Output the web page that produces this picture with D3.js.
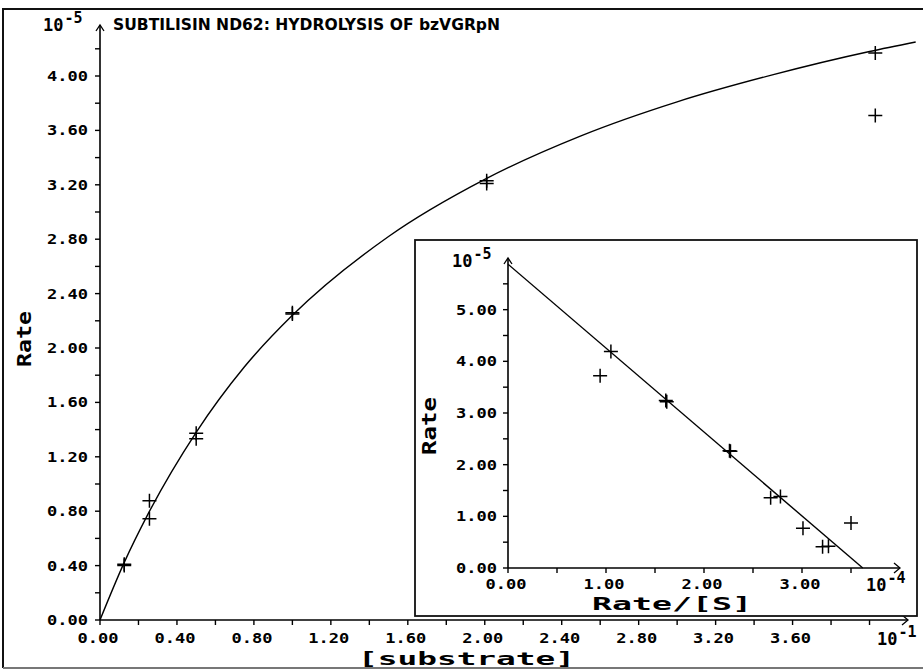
<!DOCTYPE html>
<html>
<head>
<meta charset="utf-8">
<script src="https://cdn.jsdelivr.net/npm/d3@7"></script>
<style>
  body { margin: 0; background: #fff; }
  svg { display: block; }
</style>
</head>
<body>
<div id="chart"></div>
<script>
// Main plot: rate vs [substrate] (x in 10^-1, y in 10^-5)
const substrate = [0.126, 0.126, 0.257, 0.257, 0.50, 0.50, 1.00, 1.00, 2.01, 2.01, 4.03, 4.03];
const rate      = [0.40, 0.41, 0.877, 0.745, 1.373, 1.333, 2.25, 2.26, 3.23, 3.21, 4.17, 3.71];

// fitted curve
const fitS = [0, 0.125, 0.25, 0.5, 0.75, 1.0, 1.5, 2.0, 2.5, 3.0, 3.5, 4.0, 4.24];
const fitV = [0, 0.42, 0.78, 1.38, 1.86, 2.24, 2.82, 3.24, 3.56, 3.81, 4.01, 4.18, 4.25];

// Inset: rate vs rate/[S] (x in 10^-4, y in 10^-5)
const insetX = [1.05, 0.94, 1.61, 1.62, 2.26, 2.27, 2.68, 2.78, 3.01, 3.21, 3.27, 3.50];
const insetY = [4.19, 3.72, 3.24, 3.22, 2.27, 2.26, 1.36, 1.385, 0.77, 0.41, 0.42, 0.87];
const insetLineX = [0, 3.62];
const insetLineY = [5.88, 0];

// tick labels
const mainXLabels = [0, 0.4, 0.8, 1.2, 1.6, 2.0, 2.4, 2.8, 3.2, 3.6];
const mainXMinor  = [0, 0.2, 0.4, 0.6, 0.8, 1.0, 1.2, 1.4, 1.6, 1.8, 2.0, 2.2, 2.4, 2.6, 2.8, 3.0, 3.2, 3.4, 3.6, 3.8, 4.0];
const mainYLabels = [0, 0.4, 0.8, 1.2, 1.6, 2.0, 2.4, 2.8, 3.2, 3.6, 4.0];
const mainYMinor  = [0, 0.2, 0.4, 0.6, 0.8, 1.0, 1.2, 1.4, 1.6, 1.8, 2.0, 2.2, 2.4, 2.6, 2.8, 3.0, 3.2, 3.4, 3.6, 3.8, 4.0, 4.2];
const insetXLabels = [0, 1, 2, 3];
const insetXMinor  = [0, 0.5, 1, 1.5, 2, 2.5, 3, 3.5];
const insetYLabels = [0, 1, 2, 3, 4, 5];
const insetYMinor  = [0, 0.5, 1, 1.5, 2, 2.5, 3, 3.5, 4, 4.5, 5, 5.5];

const width = 923, height = 670;
const mono = "'DejaVu Sans Mono', monospace";

const svg = d3.select("#chart").append("svg")
    .attr("width", width)
    .attr("height", height);

// outer frame (left, top, bottom)
svg.append("path")
    .attr("d", "M3,668 L3,9 L923,9")
    .attr("fill", "none").attr("stroke", "#111").attr("stroke-width", 2);
svg.append("line")
    .attr("x1", 3).attr("x2", 923).attr("y1", 668).attr("y2", 668)
    .attr("stroke", "#777").attr("stroke-width", 2);

// scales
const x = d3.scaleLinear().domain([0, 4.2]).range([100, 908]);
const y = d3.scaleLinear().domain([0, 4.375]).range([620, 25]);

function drawAxes(g, xs, ys, xMinor, xLabels, yMinor, yLabels, xLabelY, yLabelX) {
    const x0 = xs.range()[0], x1 = xs.range()[1];
    const y0 = ys.range()[0], y1 = ys.range()[1];
    g.append("line").attr("x1", x0).attr("x2", x1).attr("y1", y0).attr("y2", y0)
        .attr("stroke", "#000").attr("stroke-width", 1.6);
    g.append("line").attr("x1", x0).attr("x2", x0).attr("y1", y0).attr("y2", y1)
        .attr("stroke", "#000").attr("stroke-width", 1.6);
    // arrows
    g.append("path").attr("d", `M${x1 - 6},${y0 - 5} L${x1},${y0} L${x1 - 6},${y0 + 5}`)
        .attr("fill", "none").attr("stroke", "#000").attr("stroke-width", 1.3);
    g.append("path").attr("d", `M${x0 - 4},${y1 + 6} L${x0},${y1} L${x0 + 4},${y1 + 6}`)
        .attr("fill", "none").attr("stroke", "#000").attr("stroke-width", 1.3);
    // ticks
    g.append("g").selectAll("line").data(xMinor).join("line")
        .attr("x1", d => xs(d)).attr("x2", d => xs(d))
        .attr("y1", y0).attr("y2", y0 + 5)
        .attr("stroke", "#000").attr("stroke-width", 1.4);
    g.append("g").selectAll("line").data(yMinor).join("line")
        .attr("x1", x0 - 5).attr("x2", x0)
        .attr("y1", d => ys(d)).attr("y2", d => ys(d))
        .attr("stroke", "#000").attr("stroke-width", 1.4);
    // tick labels
    g.append("g").selectAll("text").data(xLabels).join("text")
        .attr("x", d => xs(d) - 2).attr("y", xLabelY)
        .attr("text-anchor", "middle")
        .attr("font-family", mono).attr("font-weight", "bold").attr("font-size", 14.5)
        .attr("textLength", 41).attr("lengthAdjust", "spacingAndGlyphs")
        .text(d => d.toFixed(2));
    g.append("g").selectAll("text").data(yLabels).join("text")
        .attr("x", yLabelX - 41).attr("y", d => ys(d) + 5)
        .attr("font-family", mono).attr("font-weight", "bold").attr("font-size", 14.5)
        .attr("textLength", 41).attr("lengthAdjust", "spacingAndGlyphs")
        .text(d => d.toFixed(2));
}

function powerLabel(g, px, py, exp) {
    const t = g.append("text").attr("x", px).attr("y", py)
        .attr("font-family", mono).attr("font-weight", "bold").attr("font-size", 17);
    t.append("tspan").text("10");
    t.append("tspan").attr("dy", -8).attr("dx", 1).attr("font-size", 15).text(exp);
}

function crosses(g, xs, ys, xv, yv) {
    const s = 7;
    g.append("g").selectAll("path").data(xv).join("path")
        .attr("d", (d, i) => {
            const cx = xs(d), cy = ys(yv[i]);
            return `M${cx - s},${cy} L${cx + s},${cy} M${cx},${cy - s} L${cx},${cy + s}`;
        })
        .attr("stroke", "#000").attr("stroke-width", 1.5).attr("fill", "none");
}

// ---- main plot ----
const main = svg.append("g");
drawAxes(main, x, y, mainXMinor, mainXLabels, mainYMinor, mainYLabels, 643, 88);

const fitLine = d3.line()
    .x((d, i) => x(fitS[i]))
    .y(d => y(d))
    .curve(d3.curveMonotoneX);
main.append("path")
    .attr("d", fitLine(fitV))
    .attr("fill", "none").attr("stroke", "#000").attr("stroke-width", 1.4);

crosses(main, x, y, substrate, rate);

powerLabel(main, 43, 31, "-5");
powerLabel(main, 877, 645, "-1");

main.append("text")
    .attr("x", 113).attr("y", 30)
    .attr("font-family", "'DejaVu Sans Condensed', 'DejaVu Sans', sans-serif")
    .attr("font-weight", "bold")
    .attr("font-size", 15)
    .attr("textLength", 387).attr("lengthAdjust", "spacingAndGlyphs")
    .text("SUBTILISIN ND62: HYDROLYSIS OF bzVGRpN");

main.append("text")
    .attr("x", 358).attr("y", 665)
    .attr("font-family", mono).attr("font-weight", "bold").attr("font-size", 17)
    .attr("textLength", 217).attr("lengthAdjust", "spacingAndGlyphs")
    .text("[substrate]");

main.append("text")
    .attr("transform", "translate(31,367) rotate(-90)")
    .attr("font-family", mono).attr("font-weight", "bold").attr("font-size", 19)
    .attr("textLength", 56).attr("lengthAdjust", "spacingAndGlyphs")
    .text("Rate");

// ---- inset ----
const inset = svg.append("g");
inset.append("rect")
    .attr("x", 415).attr("y", 240).attr("width", 502).attr("height", 376)
    .attr("fill", "#fff").attr("stroke", "#111").attr("stroke-width", 1.8);

const ix = d3.scaleLinear().domain([0, 4.0]).range([508, 900]);
const iy = d3.scaleLinear().domain([0, 6.0]).range([568, 258]);

drawAxes(inset, ix, iy, insetXMinor, insetXLabels, insetYMinor, insetYLabels, 589, 497);

inset.append("path")
    .attr("d", d3.line().x((d, i) => ix(insetLineX[i])).y(d => iy(d))(insetLineY))
    .attr("fill", "none").attr("stroke", "#000").attr("stroke-width", 1.4);

crosses(inset, ix, iy, insetX, insetY);

powerLabel(inset, 452, 267, "-5");
powerLabel(inset, 866, 591, "-4");

inset.append("text")
    .attr("x", 592).attr("y", 610)
    .attr("font-family", mono).attr("font-weight", "bold").attr("font-size", 17)
    .attr("textLength", 160).attr("lengthAdjust", "spacingAndGlyphs")
    .text("Rate/[S]");

inset.append("text")
    .attr("transform", "translate(436,455) rotate(-90)")
    .attr("font-family", mono).attr("font-weight", "bold").attr("font-size", 19)
    .attr("textLength", 58).attr("lengthAdjust", "spacingAndGlyphs")
    .text("Rate");
</script>
</body>
</html>
